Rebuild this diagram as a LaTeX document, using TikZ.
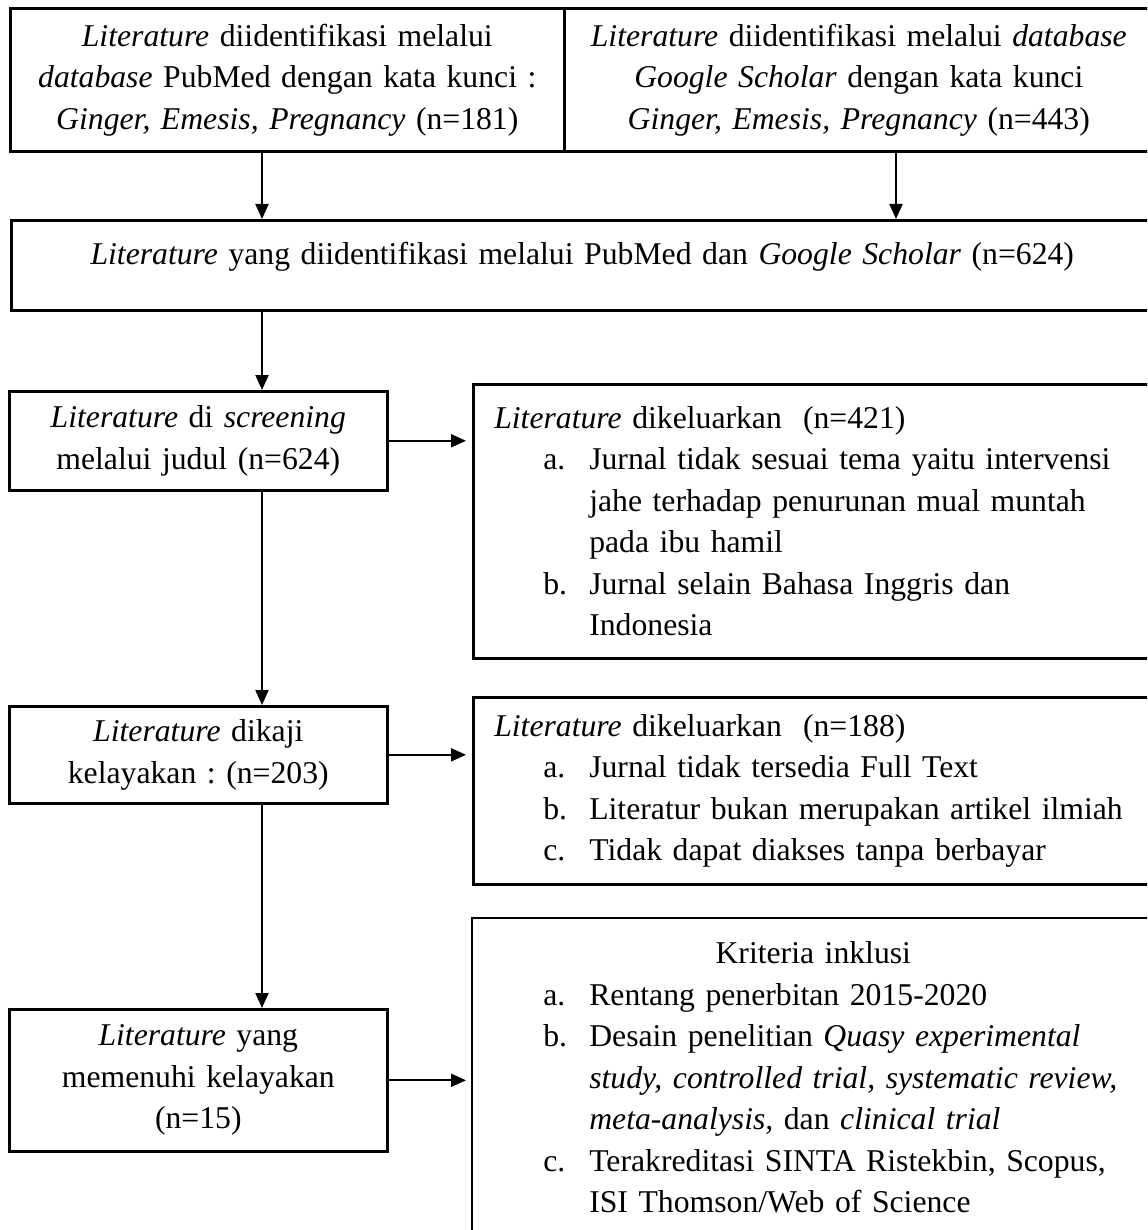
\documentclass[tikz,border=0pt]{standalone}
\usepackage{fontspec}
\setmainfont{Liberation Serif}
\usepackage{tikz}
\usetikzlibrary{arrows.meta}
\hfuzz=100pt
\frenchspacing
\tikzstyle{flowbox} = [rectangle, anchor=north west, draw=black, line width=1.3pt, inner sep=0pt, align=center]
\tikzstyle{listbox} = [rectangle, anchor=north west, draw=black, line width=1.3pt, inner xsep=10.5pt, inner ysep=0pt, text width=319pt, align=left]
\tikzstyle{arrow} = [line width=1pt, -{Triangle[length=7.5pt, width=6.5pt]}]
\newcommand{\pitem}[2]{\hspace*{24.5pt}\makebox[23pt][l]{#1}#2}
\newcommand{\pcont}{\hspace*{47.5pt}}

\begin{document}
\begin{tikzpicture}[x=0.5pt, y=0.5pt, every node/.style={font=\fontsize{15.85pt}{20.75pt}\selectfont}]
        \useasboundingbox (0,0) rectangle (1147,-1230);
        \clip (0,0) rectangle (1147,-1230);
        \coordinate (spineL) at (262,0);
        \coordinate (spineR) at (896,0);

        % Identification
        \node (idpub) [flowbox, text width=277pt, minimum height=71.5pt] at (9,-7) {\textit{Literature} diidentifikasi melalui\\ \textit{database} PubMed dengan kata kunci :\\ \textit{Ginger, Emesis, Pregnancy} (n=181)};
        \node (idgs) [flowbox, text width=294.5pt, minimum height=71.5pt] at (563,-7) {\textit{Literature} diidentifikasi melalui \textit{database}\\ \textit{Google Scholar} dengan kata kunci\\ \textit{Ginger, Emesis, Pregnancy} (n=443)};
        \node (combined) [flowbox, text width=571pt, minimum height=45pt, text height=10pt, text depth=11pt] at (10,-219) {\textit{Literature} yang diidentifikasi melalui PubMed dan \textit{Google Scholar} (n=624)};

        % Screening and eligibility
        \node (screen) [flowbox, text width=189pt, minimum height=49.5pt] at (8,-390) {\textit{Literature} di \textit{screening}\\ melalui judul (n=624)};
        \node (review) [flowbox, text width=189pt, minimum height=48.5pt] at (8,-705) {\textit{Literature} dikaji\\ kelayakan : (n=203)};
        \node (eligible) [flowbox, text width=189pt, minimum height=71pt] at (8,-1008) {\textit{Literature} yang\\ memenuhi kelayakan\\ (n=15)};

        % Excluded and criteria
        \node (excl1) [listbox, minimum height=137pt] at (472,-383) {\textit{Literature} dikeluarkan~~(n=421)\\
          \pitem{a.}{Jurnal tidak sesuai tema yaitu intervensi}\\
          \pcont jahe terhadap penurunan mual muntah\\
          \pcont pada ibu hamil\\
          \pitem{b.}{Jurnal selain Bahasa Inggris dan}\\
          \pcont Indonesia};
        \node (excl2) [listbox, minimum height=93.5pt] at (472,-696) {\textit{Literature} dikeluarkan~~(n=188)\\
          \pitem{a.}{Jurnal tidak tersedia Full Text}\\
          \pitem{b.}{Literatur bukan merupakan artikel ilmiah}\\
          \pitem{c.}{Tidak dapat diakses tanpa berbayar}};
        \node (incl) [listbox, draw=none, minimum height=158pt] at (472,-918) {\makebox[319pt][c]{Kriteria inklusi}\\
          \pitem{a.}{Rentang penerbitan 2015-2020}\\
          \pitem{b.}{Desain penelitian \textit{Quasy experimental}}\\
          \pcont \textit{study, controlled trial, systematic review,}\\
          \pcont \textit{meta-analysis,} dan \textit{clinical trial}\\
          \pitem{c.}{Terakreditasi SINTA Ristekbin, Scopus,}\\
          \pcont ISI Thomson/Web of Science};
        \draw [line width=1.3pt] ([yshift=-20pt]incl.south west) -- (incl.north west) -- (incl.north east) -- ([yshift=-20pt]incl.south east);

        % Arrows
        \draw [arrow] (spineL |- idpub.south) -- (spineL |- combined.north);
        \draw [arrow] (spineR |- idgs.south) -- (spineR |- combined.north);
        \draw [arrow] (spineL |- combined.south) -- (spineL |- screen.north);
        \draw [arrow] (spineL |- screen.south) -- (spineL |- review.north);
        \draw [arrow] (spineL |- review.south) -- (spineL |- eligible.north);
        \draw [arrow, shorten >=3pt] (screen.east) -- (screen.east -| excl1.west);
        \draw [arrow, shorten >=3pt] (review.east) -- (review.east -| excl2.west);
        \draw [arrow, shorten >=3pt] (eligible.east) -- (eligible.east -| incl.west);
      \end{tikzpicture}
\end{document}
